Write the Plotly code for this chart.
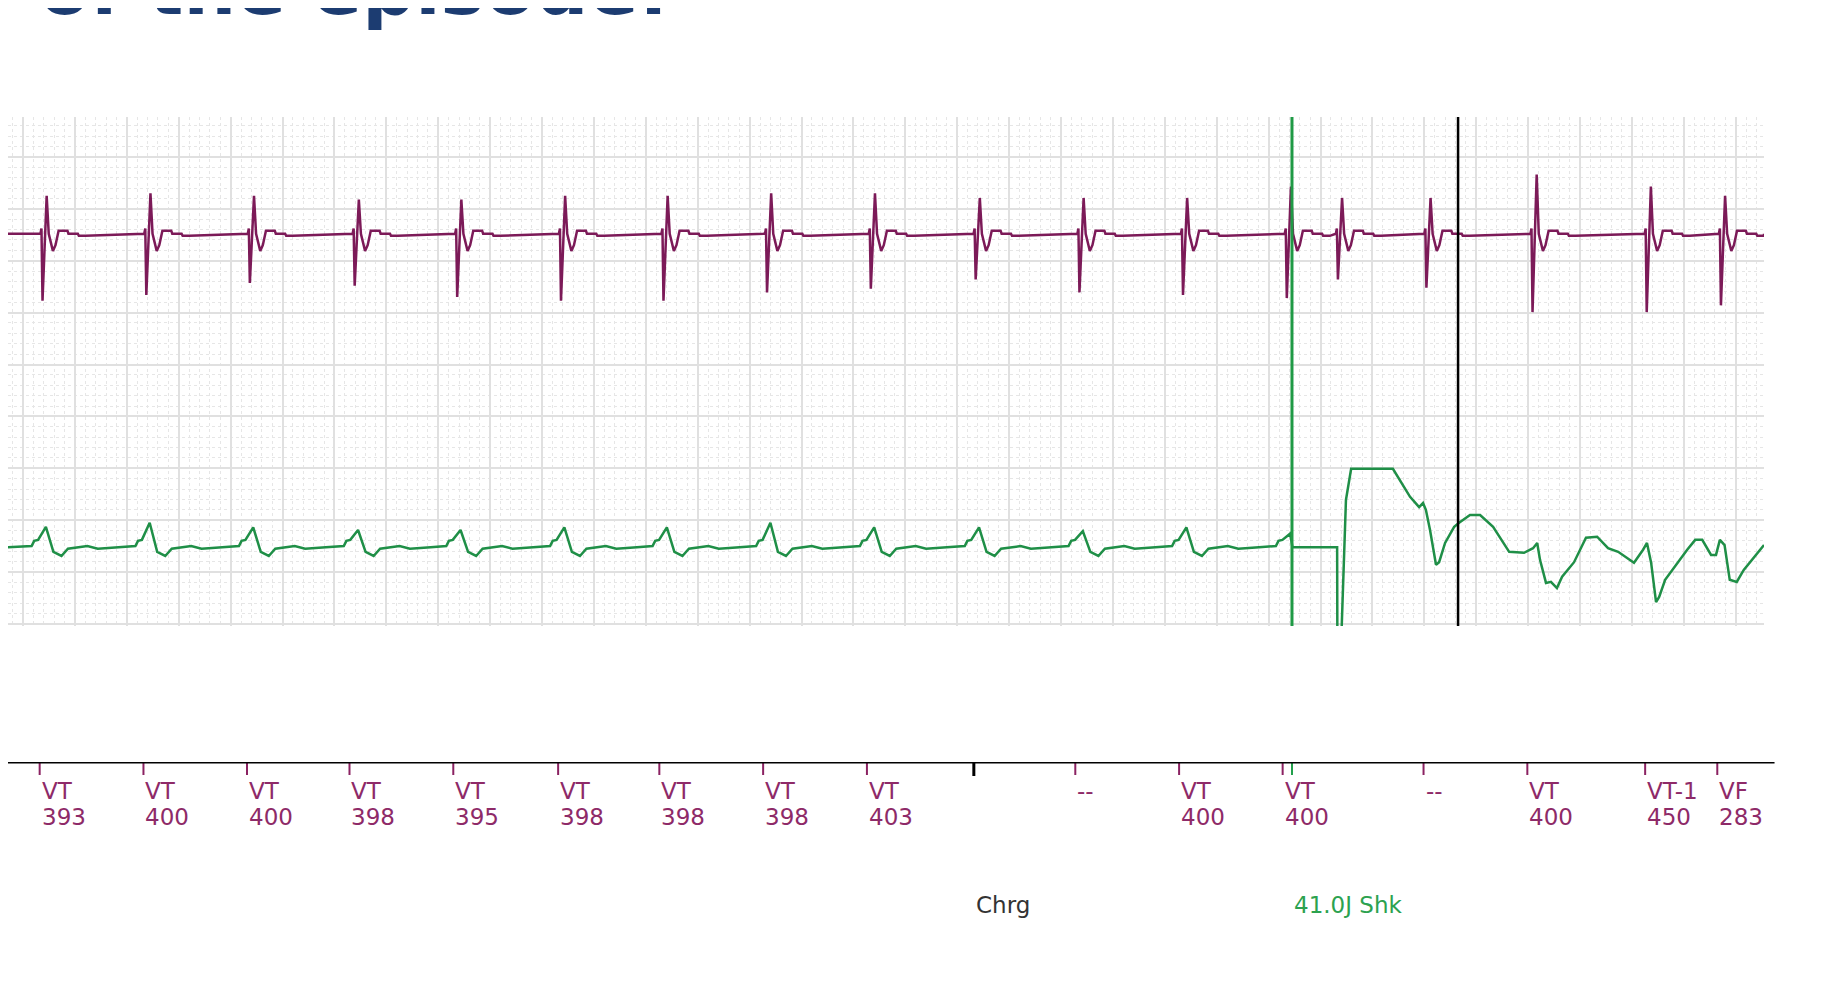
import plotly.graph_objects as pgo

# ---- top channel (purple): spike times in ms, peak / trough levels in grid units
hi_beat_t = [91, 491, 890, 1294, 1689, 2089, 2484, 2883, 3283, 3687, 4087, 4486,
             4886, 5083, 5424, 5833, 6273, 6559]
hi_peak = [8.25, 8.30, 8.25, 8.18, 8.18, 8.25, 8.25, 8.30, 8.30, 8.21, 8.21, 8.21,
           8.43, 8.21, 8.21, 8.66, 8.43, 8.25]
hi_trough = [6.23, 6.34, 6.57, 6.52, 6.30, 6.23, 6.23, 6.39, 6.46, 6.64, 6.39, 6.34,
             6.28, 6.64, 6.48, 6.01, 6.01, 6.14]
hi_base = 7.52
# shape of one complex (ms from the spike, offset from baseline; P = peak, T = trough)
hi_shape_t = [-24, -20, -16, 0, 8, 24, 34, 46, 80, 84, 120, 124, 150]
hi_shape_dy = [0, 0.1, "T", "P", 0, -0.33, -0.22, 0.06, 0.06, 0.0, 0.0, -0.04, -0.04]

# ---- bottom channel (green) before the shock
lo_beat_t = [88, 488, 887, 1291, 1686, 2086, 2481, 2880, 3280, 3684, 4084, 4483, 4883]
lo_peak = [1.87, 1.95, 1.86, 1.81, 1.81, 1.86, 1.86, 1.95, 1.86, 1.86, 1.79, 1.86, 1.74]
lo_base = 1.48
lo_shape_t = [-70, -55, -45, -30, 0, 29, 60, 85, 160, 200, 280]
lo_shape_dy = [0.02, 0.02, 0.12, 0.14, "P", -0.09, -0.17, -0.03, 0.02, -0.03, 0.0]

# ---- bottom channel after the shock (read point by point)
post_t = [4892, 5064, 5065, 5078, 5098, 5118, 5279, 5345, 5380, 5395, 5406, 5422, 5445,
          5457, 5480, 5515, 5534, 5576, 5615, 5665, 5727, 5784, 5819, 5835, 5846, 5869,
          5888, 5911, 5931, 5977, 6023, 6066, 6108, 6147, 6208, 6243, 6258, 6274, 6293,
          6305, 6328, 6413, 6444, 6471, 6505, 6524, 6539, 6557, 6577, 6604, 6631, 6709]
post_y = [1.48, 1.48, -0.6, -0.6, 2.39, 2.99, 2.99, 2.45, 2.25, 2.33, 2.20, 1.81, 1.14,
          1.19, 1.56, 1.87, 1.95, 2.10, 2.10, 1.87, 1.39, 1.37, 1.46, 1.56, 1.23, 0.79,
          0.81, 0.69, 0.91, 1.19, 1.66, 1.68, 1.46, 1.39, 1.18, 1.43, 1.56, 1.18, 0.42,
          0.52, 0.85, 1.43, 1.62, 1.62, 1.33, 1.33, 1.62, 1.52, 0.85, 0.81, 1.04, 1.52]

# ---- marker channel
mk_t = [64, 464, 863, 1258, 1658, 2062, 2452, 2852, 3252, 4055, 4455, 4854, 5397,
        5797, 6251, 6529]
mk_top = ["VT", "VT", "VT", "VT", "VT", "VT", "VT", "VT", "VT", "--", "VT", "VT", "--",
          "VT", "VT-1", "VF"]
mk_bottom = ["393", "400", "400", "398", "395", "398", "398", "398", "403", "", "400",
             "400", "", "400", "450", "283"]
chrg_t = 3664
shock_t = 4890
cursor_t = 5530

t_start, t_end = -58, 6709
purple = "#7c1a58"
green = "#1f8f47"


def build_wave(beats, peaks, troughs, base, shape_t, shape_dy, stop=None):
    xs, ys = [t_start], [base]
    for bt, pk, tr in zip(beats, peaks, troughs):
        for dt, dy in zip(shape_t, shape_dy):
            if stop is not None and bt + dt >= stop:
                break
            xs.append(bt + dt)
            if dy == "P":
                ys.append(pk)
            elif dy == "T":
                ys.append(tr)
            else:
                ys.append(base + dy)
    return xs, ys


hi_x, hi_y = build_wave(hi_beat_t, hi_peak, hi_trough, hi_base, hi_shape_t, hi_shape_dy)
hi_x.append(t_end)
hi_y.append(hi_base)

lo_x, lo_y = build_wave(lo_beat_t, lo_peak, lo_peak, lo_base, lo_shape_t, lo_shape_dy,
                        stop=shock_t)
lo_x += post_t
lo_y += post_y

fig = pgo.Figure()
fig.add_trace(pgo.Scatter(x=hi_x, y=hi_y, mode="lines",
                          line=dict(color=purple, width=2.5), hoverinfo="skip"))
fig.add_trace(pgo.Scatter(x=lo_x, y=lo_y, mode="lines",
                          line=dict(color=green, width=2.5), hoverinfo="skip"))

# marker ticks under the channel line
tick_x, tick_y = [], []
for t in mk_t:
    tick_x += [t, t, None]
    tick_y += [0, -13, None]
fig.add_trace(pgo.Scatter(x=tick_x, y=tick_y, mode="lines", xaxis="x2", yaxis="y2",
                          line=dict(color="#8b2262", width=2), hoverinfo="skip"))
fig.add_trace(pgo.Scatter(x=[chrg_t, chrg_t], y=[0, -14], mode="lines", xaxis="x2",
                          yaxis="y2", line=dict(color="black", width=3), hoverinfo="skip"))
fig.add_trace(pgo.Scatter(x=[shock_t, shock_t], y=[0, -13], mode="lines", xaxis="x2",
                          yaxis="y2", line=dict(color="#22a04c", width=2), hoverinfo="skip"))

lab_font = dict(family="DejaVu Sans", size=23, color="#8e2a68")
for t, top, bot in zip(mk_t, mk_top, mk_bottom):
    fig.add_annotation(x=t, y=-29, xref="x2", yref="y2", text=top, showarrow=False,
                       xanchor="left", yanchor="middle", font=lab_font)
    if bot:
        fig.add_annotation(x=t, y=-55, xref="x2", yref="y2", text=bot, showarrow=False,
                           xanchor="left", yanchor="middle", font=lab_font)
fig.add_annotation(x=chrg_t, y=-143, xref="x2", yref="y2", text="Chrg", showarrow=False,
                   xanchor="left", yanchor="middle",
                   font=dict(family="DejaVu Sans", size=23, color="#333333"))
fig.add_annotation(x=shock_t, y=-143, xref="x2", yref="y2", text="41.0J Shk",
                   showarrow=False, xanchor="left", yanchor="middle",
                   font=dict(family="DejaVu Sans", size=23, color="#2ca24f"))

# channel base line
fig.add_shape(type="line", xref="paper", yref="y2", x0=0, x1=1.006, y0=0, y1=0,
              line=dict(color="black", width=3))

# shock and cursor lines across the traces
fig.add_vline(x=shock_t, line=dict(color="#1f9a45", width=3))
fig.add_vline(x=cursor_t, line=dict(color="black", width=2.5))

# slide title, mostly cut off by the top edge
fig.add_annotation(x=0.377, y=1.0991, xref="paper", yref="paper",
                   text="<b>Interpretation of the episode:</b>", showarrow=False,
                   xanchor="right", yanchor="bottom",
                   font=dict(family="DejaVu Sans", size=74, color="#1c3c71"))

# the page body adds 8px on the left and top, so margins are trimmed by that much
fig.update_layout(
    width=1819, height=999,
    margin=dict(l=0, r=63, t=109, b=47),
    plot_bgcolor="white", paper_bgcolor="white",
    showlegend=False,
    font=dict(family="DejaVu Sans"),
    xaxis=dict(range=[t_start, t_end], tick0=0, dtick=200, showgrid=True,
               gridcolor="#e0e0e0", gridwidth=1.5, showticklabels=False, ticks="",
               zeroline=False, showline=False, anchor="y",
               minor=dict(dtick=40, showgrid=True, gridcolor="#e6e6e6",
                          griddash="dot", gridwidth=1)),
    yaxis=dict(domain=[0.3962, 1], range=[-0.04, 9.77], tick0=0, dtick=1,
               showgrid=True, gridcolor="#e0e0e0", gridwidth=1.5,
               showticklabels=False, ticks="", zeroline=False, showline=False,
               minor=dict(dtick=0.2, showgrid=True, gridcolor="#e6e6e6",
                          griddash="dot", gridwidth=1)),
    xaxis2=dict(matches="x", anchor="y2", visible=False),
    yaxis2=dict(domain=[0, 198 / 843], range=[-198, 0], visible=False),
)

fig.write_html("out.html")
